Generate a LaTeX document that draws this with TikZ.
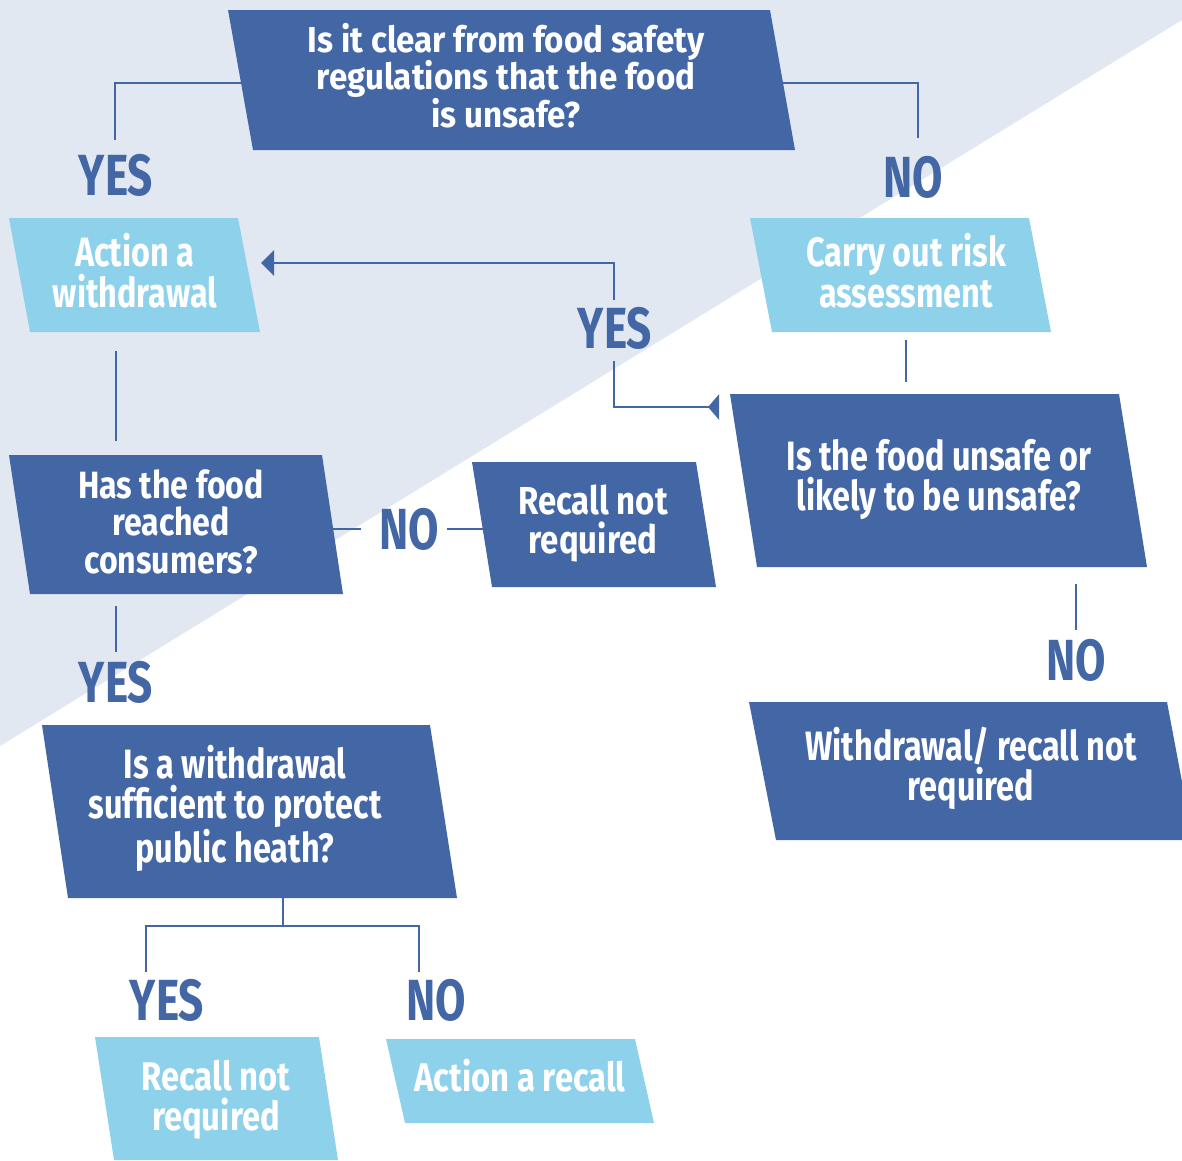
\documentclass[tikz,border=0pt]{standalone}
\usepackage{fontspec}
\newfontfamily\fA{Fira Sans}[FakeStretch=0.79]
\newfontfamily\fB{Fira Sans}[FakeStretch=0.82]
\newfontfamily\fC{Fira Sans}[FakeStretch=0.845]
\newfontfamily\fD{Fira Sans}[FakeStretch=0.92]
\newfontfamily\lblfont{Fira Sans}[FakeStretch=0.76]
\usetikzlibrary{arrows.meta}
\definecolor{dblue}{HTML}{4366A5}
\definecolor{lblue}{HTML}{8ED1EB}
\definecolor{bgblue}{HTML}{E1E8F2}
\newcommand\fsz[2]{\fontsize{#1}{#2}\selectfont}
\begin{document}
\begin{tikzpicture}[x=1pt,y=-1pt,
  darkbox/.style={fill=dblue},
  lightbox/.style={fill=lblue},
  boxtext/.style={text=white, align=center, inner sep=0pt, anchor=base},
  yn/.style={text=dblue, inner sep=0pt, anchor=base, font=\lblfont\bfseries\fsz{58}{58}},
  conn/.style={draw=dblue, line width=2.8pt}]
\useasboundingbox (0,0) rectangle (1182,1160);
\fill[bgblue] (0,0) -- (1182,0) -- (1182,20) -- (0,746) -- cycle;

% boxes
\fill[darkbox] (228,10) -- (770,10) -- (795,150) -- (253,150) -- cycle;
\fill[lightbox] (9,218) -- (238,218) -- (260,332) -- (30,332) -- cycle;
\fill[lightbox] (750,218) -- (1029,218) -- (1051,332) -- (772,332) -- cycle;
\fill[darkbox] (730,394) -- (1119,394) -- (1147,567) -- (757,567) -- cycle;
\fill[darkbox] (9,455) -- (322,455) -- (343,594) -- (30,594) -- cycle;
\fill[darkbox] (472,462) -- (696,462) -- (716,587) -- (492,587) -- cycle;
\fill[darkbox] (749,702) -- (1167,702) -- (1193,840) -- (776,840) -- cycle;
\fill[darkbox] (42,725) -- (430,725) -- (457,898) -- (68,898) -- cycle;
\fill[lightbox] (95,1037) -- (319,1037) -- (338,1160) -- (114,1160) -- cycle;
\fill[lightbox] (386,1039) -- (635,1039) -- (654,1123) -- (405,1123) -- cycle;

% texts
\node[boxtext, font=\fD\bfseries\fsz{36}{37.5}] (q1) at (506,127) {Is it clear from food safety\\regulations that the food\\is unsafe?};
\node[boxtext, font=\fA\bfseries\fsz{41}{41}] (a1) at (135,307) {Action a\\withdrawal};
\node[boxtext, font=\fA\bfseries\fsz{41}{41}] (c1) at (906,307) {Carry out risk\\assessment};
\node[boxtext, font=\fA\bfseries\fsz{41}{40}] (q2) at (939,510) {Is the food unsafe or\\likely to be unsafe?};
\node[boxtext, font=\fC\bfseries\fsz{38}{37.5}] (q3) at (171,573) {Has the food\\reached\\consumers?};
\node[boxtext, font=\fC\bfseries\fsz{39}{39}] (r1) at (593,553) {Recall not\\required};
\node[boxtext, font=\fA\bfseries\fsz{41}{40}] (w1) at (971,800) {Withdrawal/ recall not\\required};
\node[boxtext, font=\fA\bfseries\fsz{41}{40}] (q4) at (235,862) {Is a withdrawal\\sufficient to protect\\public heath?};
\node[boxtext, font=\fB\bfseries\fsz{40}{40}] (r2) at (216,1130) {Recall not\\required};
\node[boxtext, font=\fB\bfseries\fsz{40}{40}] (ar) at (520,1091) {Action a recall};

% labels
\node[yn] (yes1) at (116,195) {YES};
\node[yn] (no1) at (913,197) {NO};
\node[yn] (yes2) at (615,348) {YES};
\node[yn] (no2) at (409,549) {NO};
\node[yn] (yes3) at (116,702) {YES};
\node[yn] (no3) at (1076,680) {NO};
\node[yn] (yes4) at (167,1020) {YES};
\node[yn] (no4) at (436,1020) {NO};

% connector end points
\coordinate (q1L) at (241,83);
\coordinate (q1R) at (783,83);
\coordinate (yes1T) at (115,140);
\coordinate (no1T) at (918,138);
\coordinate (c1B) at (906,340);
\coordinate (q2T) at (906,382);
\coordinate (q2W) at (719,407);
\coordinate (yes2B) at (614,361);
\coordinate (yes2T) at (614,300);
\coordinate (a1E) at (261,263);
\coordinate (a1B) at (116,351);
\coordinate (q3T) at (116,441);
\coordinate (q3E) at (333,529);
\coordinate (no2W) at (361,529);
\coordinate (no2E) at (447,529);
\coordinate (r1W) at (483,529);
\coordinate (q3B) at (116,606);
\coordinate (yes3T) at (116,652);
\coordinate (q2B) at (1076,584);
\coordinate (no3T) at (1076,630);
\coordinate (q4B) at (283,898);
\coordinate (fork) at (283,926);
\coordinate (yes4T) at (146,972);
\coordinate (no4T) at (419,972);

% connectors
\draw[conn] (q1L) -| (yes1T);
\draw[conn] (q1R) -| (no1T);
\draw[conn] (c1B) -- (q2T);
\draw[conn, {Triangle[reversed,length=11pt,width=25pt]}-] (q2W) -| (yes2B);
\draw[conn, -{Triangle[length=13pt,width=25pt]}] (yes2T) |- (a1E);
\draw[conn] (a1B) -- (q3T);
\draw[conn] (q3E) -- (no2W);
\draw[conn] (no2E) -- (r1W);
\draw[conn] (q3B) -- (yes3T);
\draw[conn] (q2B) -- (no3T);
\draw[conn] (q4B) -- (fork);
\draw[conn] (fork) -| (yes4T);
\draw[conn] (fork) -| (no4T);
\end{tikzpicture}
\end{document}
